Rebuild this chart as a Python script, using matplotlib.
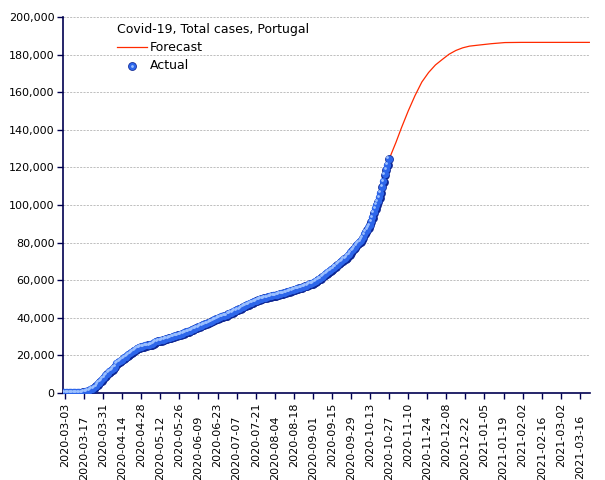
import numpy as np
import pandas as pd
import matplotlib
matplotlib.use('Agg')
import matplotlib.pyplot as plt
import matplotlib.dates as mdates
from matplotlib.ticker import FuncFormatter, MultipleLocator
from matplotlib.transforms import offset_copy
from matplotlib.legend_handler import HandlerTuple

# ----------------------------------------------------------------
# Data: Portugal total cases (actual, daily from 2020-03-02)
# ----------------------------------------------------------------
actual_start = '2020-03-02'
cases_mar = [2, 4, 6, 9, 13, 21, 30, 39, 41, 59, 78, 112, 169, 245, 331,
             448, 642, 785, 1020, 1280, 1600, 2060, 2362, 2995, 3544, 4268,
             5170, 5962, 6408, 7443]
cases_apr = [8251, 9034, 9886, 10524, 11278, 11730, 12442, 13141, 13956, 15472,
             15987, 16585, 16934, 17448, 18091, 18841, 19022, 19685, 20206, 20863,
             21379, 21982, 22353, 22797, 23392, 23864, 24027, 24322, 24505, 24692]
cases_may = [25045, 25190, 25282, 25351, 25524, 25702, 26182, 26715, 27268, 27406,
             27581, 27679, 27913, 28132, 28319, 28583, 28810, 29036, 29209, 29432,
             29660, 29912, 30200, 30471, 30623, 30788, 31007, 31292, 31596, 31946,
             32203]
cases_jun = [32500, 32700, 32895, 33261, 33592, 33969, 34351, 34693, 34885, 35306,
             35600, 35910, 36180, 36463, 36690, 37036, 37336, 37672, 38089, 38464,
             38841, 39133, 39392, 39737, 40104, 40415, 40690, 40866, 41040, 41189]
cases_jul = [41912, 42141, 42454, 42782, 43156, 43569, 43897, 44129, 44416, 44859,
             45277, 45679, 46221, 46512, 46818, 47051, 47426, 47765, 48077, 48390,
             48771, 48898, 49379, 49692, 49955, 50164, 50299, 50410, 50613, 50868,
             51072]
cases_aug = [51310, 51463, 51569, 51681, 51848, 52061, 52351, 52537, 52668, 52825,
             52945, 53223, 53548, 53783, 53981, 54234, 54448, 54701, 54854, 55211,
             55452, 55597, 55720, 55912, 56274, 56673, 56809, 57074, 57448, 57883,
             58012]
cases_sep = [58243, 58633, 59051, 59457, 60258, 60507, 60895, 61541, 62126, 62813,
             63310, 63983, 64596, 65021, 65626, 66031, 66895, 67176, 68025, 68577,
             69200, 69663, 70465, 71156, 71475, 72055, 72939, 73604, 74717, 75542]
cases_oct = [76396, 77284, 78247, 79151, 79885, 80312, 81256, 82534, 84311, 85574,
             86664, 87913, 89121, 91193, 93294, 95902, 98055, 99911, 101860, 103736,
             106271, 109541, 112440, 116109, 118686, 121133, 124432]

actual_cases = (cases_mar + cases_apr + cases_may + cases_jun + cases_jul
                + cases_aug + cases_sep + cases_oct)
actual_dates = pd.date_range(actual_start, periods=len(actual_cases), freq='D')

# forecast
forecast_dates = pd.to_datetime([
    '2020-10-20', '2020-10-27', '2020-11-01', '2020-11-05', '2020-11-10',
    '2020-11-15', '2020-11-20', '2020-11-25', '2020-11-30', '2020-12-05',
    '2020-12-10', '2020-12-15', '2020-12-20', '2020-12-25', '2020-12-31',
    '2021-01-10', '2021-01-20', '2021-02-01', '2021-03-23'])
forecast_cases = [105500, 124400, 133300, 141000, 150000,
                  158200, 165400, 170500, 174500, 177400,
                  180200, 182200, 183600, 184500, 185000,
                  185800, 186400, 186500, 186500]

title = 'Covid-19, Total cases, Portugal'
axis_col = '#000050'

# ----------------------------------------------------------------
# Figure
# ----------------------------------------------------------------
fig = plt.figure(figsize=(6.05, 4.8), dpi=100)
ax = fig.add_axes([63/605, 87/480, 527/605, 376/480])

line, = ax.plot(forecast_dates, forecast_cases, color='#ff2a00', lw=0.9,
                zorder=2, label='Forecast')

# shaded "sphere" markers
tr_body = offset_copy(ax.transData, fig=fig, x=-0.4, y=0.4, units='points')
tr_hi = offset_copy(ax.transData, fig=fig, x=-1.3, y=1.3, units='points')
s1 = ax.scatter(actual_dates, actual_cases, s=40, color='#0e2590', lw=0, zorder=3)
s2 = ax.scatter(actual_dates, actual_cases, s=28, color='#2d66ea', lw=0, zorder=4,
                transform=tr_body)
s3 = ax.scatter(actual_dates, actual_cases, s=4, color='#9cc0ff', lw=0, zorder=5,
                transform=tr_hi)

ax.set_xlim(pd.Timestamp('2020-03-01 12:00'), pd.Timestamp('2021-03-23 12:00'))
ax.set_ylim(0, 200000)

# y axis
ax.yaxis.set_major_locator(MultipleLocator(20000))
ax.yaxis.set_major_formatter(FuncFormatter(lambda v, _: f'{v:,.0f}'))
ax.grid(axis='y', color='#b4b4b4', ls=(0, (2.5, 1.5)), lw=0.6)
ax.set_axisbelow(True)

# x axis: labels every 14 days, staggered
all_ticks = pd.date_range('2020-03-03', '2021-03-16', freq='14D')
ax.set_xticks(all_ticks[::2])
ax.set_xticks(all_ticks[1::2], minor=True)
ax.xaxis.set_major_formatter(mdates.DateFormatter('%Y-%m-%d'))
ax.xaxis.set_minor_formatter(mdates.DateFormatter('%Y-%m-%d'))
ax.tick_params(axis='x', which='both', length=4, width=1, color=axis_col,
               labelsize=8, rotation=90)
ax.tick_params(axis='x', which='major', pad=3)
ax.tick_params(axis='x', which='minor', pad=12)
ax.tick_params(axis='y', length=4, width=1, color=axis_col, labelsize=8, pad=2)

for side in ['top', 'right']:
    ax.spines[side].set_visible(False)
for side in ['left', 'bottom']:
    ax.spines[side].set_color(axis_col)
    ax.spines[side].set_linewidth(1.2)

leg = ax.legend([line, (s1, s2, s3)], ['Forecast', 'Actual'],
                handler_map={tuple: HandlerTuple(ndivide=1)},
                title=title, title_fontsize=9, fontsize=9,
                frameon=False, loc='upper left', bbox_to_anchor=(0.09, 1.0),
                borderpad=0, handlelength=2.4, handletextpad=0.25,
                labelspacing=0.4, alignment='left')

fig.savefig('out.png', dpi=100)
